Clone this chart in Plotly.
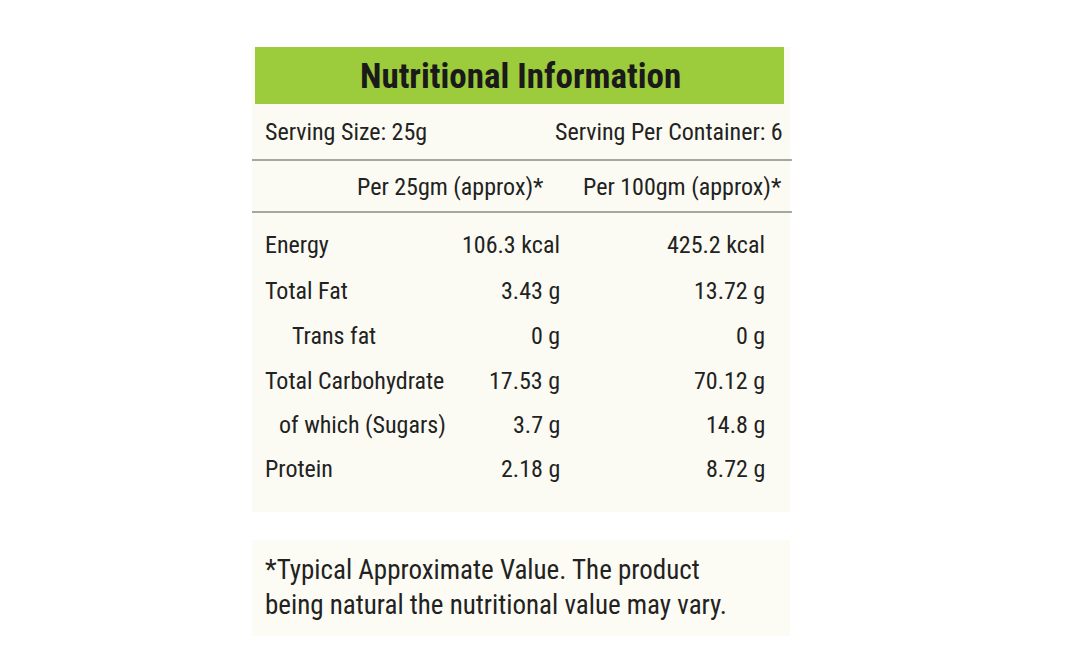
import plotly.graph_objects as go

# table contents
nutrients = ["Energy", "Total Fat", "Trans fat", "Total Carbohydrate", "of which (Sugars)", "Protein"]
indent = [0, 0, 1, 0, 0.5, 0]
per_25g = ["106.3 kcal", "3.43 g", "0 g", "17.53 g", "3.7 g", "2.18 g"]
per_100g = ["425.2 kcal", "13.72 g", "0 g", "70.12 g", "14.8 g", "8.72 g"]
col_headers = ["Per 25gm (approx)*", "Per 100gm (approx)*"]
title = "Nutritional Information"
serving_size = "Serving Size: 25g"
serving_per = "Serving Per Container: 6"
footnote = "*Typical Approximate Value. The product<br>being natural the nutritional value may vary."

FONT = "Liberation Sans Narrow, Roboto Condensed, Liberation Sans, Arial"
TXT = "#222222"
OFF = 8  # page body offset
row_y = [245, 291, 336, 381, 425, 469]


def X(v):
    return v - OFF


def Y(v):
    return v - OFF


fig = go.Figure()
fig.add_trace(go.Scatter(x=[None], y=[None], mode="markers", hoverinfo="skip"))

shapes = [
    dict(type="rect", x0=X(252), x1=X(790), y0=Y(47), y1=Y(512), fillcolor="#fbfbf3", line_width=0, layer="below"),
    dict(type="rect", x0=X(252), x1=X(790), y0=Y(540), y1=Y(636), fillcolor="#fcfcf4", line_width=0, layer="below"),
    dict(type="rect", x0=X(255), x1=X(784), y0=Y(47), y1=Y(104), fillcolor="#9ccb3c", line_width=0, layer="below"),
    dict(type="line", x0=X(252), x1=X(792), y0=Y(160), y1=Y(160), line=dict(color="#8a8a8a", width=1.5)),
    dict(type="line", x0=X(252), x1=X(792), y0=Y(212), y1=Y(212), line=dict(color="#8a8a8a", width=1.5)),
]

body = dict(family=FONT, size=24, color=TXT)
ann = [
    dict(x=X(520), y=Y(76), text="<b>" + title + "</b>", xanchor="center", font=dict(family=FONT, size=35, color="#1a1a1a")),
    dict(x=X(263), y=Y(132), text=serving_size, xanchor="left", font=body),
    dict(x=X(785), y=Y(132), text=serving_per, xanchor="right", font=body),
    dict(x=X(546), y=Y(187), text=col_headers[0], xanchor="right", font=body),
    dict(x=X(784), y=Y(187), text=col_headers[1], xanchor="right", font=body),
    dict(x=X(263), y=Y(587), text=footnote, xanchor="left", align="left", font=dict(family=FONT, size=27, color=TXT)),
]
for name, ind, v25, v100, y in zip(nutrients, indent, per_25g, per_100g, row_y):
    ann.append(dict(x=X(263 + 27 * ind), y=Y(y), text=name, xanchor="left", font=body))
    ann.append(dict(x=X(562), y=Y(y), text=v25, xanchor="right", font=body))
    ann.append(dict(x=X(767), y=Y(y), text=v100, xanchor="right", font=body))
for a in ann:
    a.update(xref="x", yref="y", showarrow=False, yanchor="middle")

fig.update_layout(
    width=1068, height=671, margin=dict(l=0, r=0, t=0, b=0),
    paper_bgcolor="white", plot_bgcolor="white", showlegend=False,
    xaxis=dict(range=[0, 1068], visible=False, fixedrange=True),
    yaxis=dict(range=[671, 0], visible=False, fixedrange=True),
    shapes=shapes, annotations=ann,
)

fig.write_html("out.html")
